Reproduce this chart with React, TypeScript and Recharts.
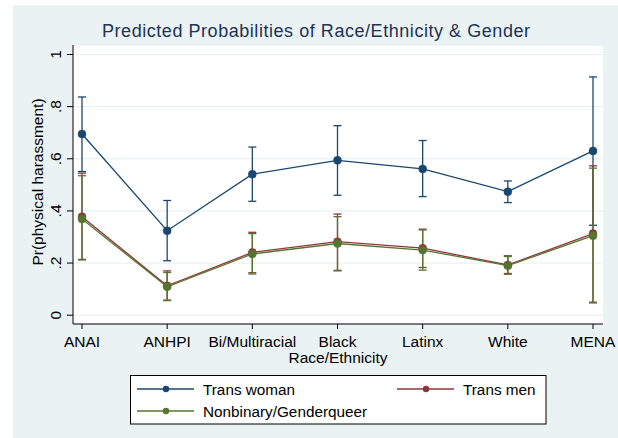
import { LineChart, Line, XAxis, YAxis, CartesianGrid, ErrorBar } from "recharts";

const categories = ["ANAI", "ANHPI", "Bi/Multiracial", "Black", "Latinx", "White", "MENA"];

const transWoman = [0.695, 0.324, 0.541, 0.594, 0.561, 0.474, 0.63];
const transWomanLo = [0.551, 0.209, 0.437, 0.46, 0.455, 0.432, 0.345];
const transWomanHi = [0.837, 0.44, 0.645, 0.727, 0.67, 0.515, 0.914];

const transMen = [0.378, 0.113, 0.241, 0.282, 0.257, 0.193, 0.313];
const transMenLo = [0.214, 0.058, 0.163, 0.172, 0.183, 0.16, 0.05];
const transMenHi = [0.545, 0.17, 0.318, 0.388, 0.33, 0.228, 0.573];

const nonbinary = [0.369, 0.109, 0.235, 0.275, 0.25, 0.19, 0.305];
const nonbinaryLo = [0.212, 0.056, 0.158, 0.17, 0.173, 0.157, 0.047];
const nonbinaryHi = [0.535, 0.164, 0.313, 0.378, 0.327, 0.225, 0.564];

const yTicks = [0, 0.2, 0.4, 0.6, 0.8, 1];
const yTickLabels = ["0", ".2", ".4", ".6", ".8", "1"];

const FONT = "'Liberation Sans', Arial, sans-serif";

const series = [
  { key: "tw", name: "Trans woman", color: "#1a476f", est: transWoman, lo: transWomanLo, hi: transWomanHi },
  { key: "tm", name: "Trans men", color: "#90353b", est: transMen, lo: transMenLo, hi: transMenHi },
  { key: "nb", name: "Nonbinary/Genderqueer", color: "#55752f", est: nonbinary, lo: nonbinaryLo, hi: nonbinaryHi },
];

const rows = categories.map((name, i) => {
  const row: Record<string, any> = { name };
  series.forEach((s) => {
    row[s.key] = s.est[i];
    row[s.key + "Err"] = [s.est[i] - s.lo[i], s.hi[i] - s.est[i]];
  });
  return row;
});

const YTick = (props: any) => {
  const { x, y, payload } = props;
  const idx = yTicks.indexOf(payload.value);
  const bx = x - 4;
  return (
    <text x={bx} y={y} transform={`rotate(-90 ${bx} ${y})`} textAnchor="middle" fontSize={15.5} fontFamily={FONT} fill="#000">
      {idx >= 0 ? yTickLabels[idx] : payload.value}
    </text>
  );
};

const XTick = (props: any) => {
  const { x, payload } = props;
  return (
    <text x={x} y={347} textAnchor="middle" fontSize={15.5} fontFamily={FONT} fill="#000">
      {payload.value}
    </text>
  );
};

// legend positions follow the Stata layout: two columns, two rows
const legendSlots = [
  { lx: 137, ly: 389 },
  { lx: 397, ly: 389 },
  { lx: 137, ly: 411 },
];

export default function App() {
  return (
    <div style={{ position: "absolute", left: 0, top: 0, width: 618, height: 438, background: "#fff" }}>
      <div style={{ position: "absolute", left: 13, top: 5, width: 605, height: 433, background: "#eaf2f3" }} />
      <div style={{ position: "absolute", left: 0, top: 0 }}>
        <LineChart width={618} height={438} data={rows} margin={{ top: 45, right: 15, bottom: 84, left: 0 }}>
          <CartesianGrid fill="#ffffff" stroke="#e6eef0" vertical={false} strokeWidth={1} />
          <XAxis
            dataKey="name"
            type="category"
            height={30}
            padding={{ left: 9, right: 10 }}
            axisLine={{ stroke: "#000", strokeWidth: 1 }}
            tickLine={{ stroke: "#000" }}
            tickSize={5}
            tick={<XTick />}
            interval={0}
          />
          <YAxis
            type="number"
            width={73}
            domain={[-0.0337, 1.0364]}
            ticks={yTicks}
            allowDataOverflow
            axisLine={{ stroke: "#000", strokeWidth: 1 }}
            tickLine={{ stroke: "#000" }}
            tickSize={6}
            tick={<YTick />}
          />
          {series.map((s) => (
            <Line
              key={s.key}
              dataKey={s.key}
              name={s.name}
              stroke={s.color}
              strokeWidth={1.3}
              dot={{ r: 4, fill: s.color, stroke: s.color, strokeWidth: 0.5 }}
              activeDot={false}
              isAnimationActive={false}
            >
              <ErrorBar dataKey={s.key + "Err"} width={4} stroke={s.color} strokeWidth={1.3} direction="y" />
            </Line>
          ))}
        </LineChart>
      </div>
      <svg width={618} height={438} style={{ position: "absolute", left: 0, top: 0, pointerEvents: "none" }}>
        <text
          x={316}
          y={37}
          textAnchor="middle"
          fontSize={18}
          fontFamily={FONT}
          fill="#1e3354"
          textLength={428}
          lengthAdjust="spacing"
        >
          Predicted Probabilities of Race/Ethnicity &amp; Gender
        </text>
        <text
          x={43}
          y={182}
          transform="rotate(-90 43 182)"
          textAnchor="middle"
          fontSize={15.5}
          fontFamily={FONT}
          fill="#000"
        >
          Pr(physical harassment)
        </text>
        <text x={338} y={363} textAnchor="middle" fontSize={15.5} fontFamily={FONT} fill="#000">
          Race/Ethnicity
        </text>
        <rect x={130.5} y={375.5} width={415.5} height={48.5} fill="#fff" stroke="#000" strokeWidth={1} />
        {series.map((s, i) => {
          const { lx, ly } = legendSlots[i];
          return (
            <g key={s.key}>
              <line x1={lx} y1={ly} x2={lx + 57} y2={ly} stroke={s.color} strokeWidth={1.3} />
              <circle cx={lx + 29} cy={ly} r={3.2} fill={s.color} />
              <text x={lx + 66} y={ly + 5.5} fontSize={15.3} fontFamily={FONT} fill="#000">
                {s.name}
              </text>
            </g>
          );
        })}
      </svg>
    </div>
  );
}
